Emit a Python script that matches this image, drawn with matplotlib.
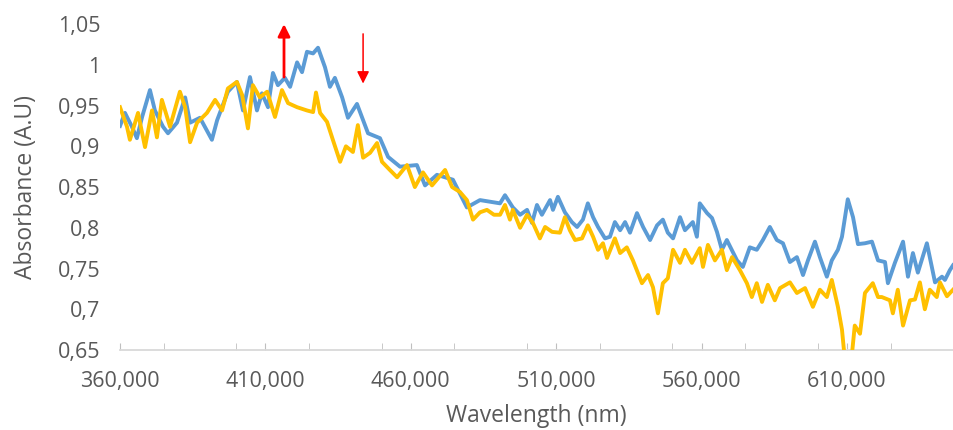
import matplotlib
matplotlib.use("Agg")
import matplotlib.pyplot as plt
from matplotlib.ticker import FuncFormatter, MultipleLocator, FixedLocator

# ---- data ----
blue_wl = [360.0, 361.7, 364.1, 365.8, 367.6, 370.3, 372.0, 374.8, 376.5, 379.6,
           382.4, 384.1, 387.5, 391.6, 393.4, 397.1, 400.2, 402.3, 404.7, 407.1,
           408.8, 410.9, 412.6, 414.3, 416.7, 418.5, 420.9, 422.6, 424.3, 426.4,
           428.1, 430.5, 432.2, 433.9, 436.4, 438.4, 441.5, 445.3, 449.4, 452.2,
           456.3, 462.1, 464.9, 469.0, 474.5, 479.3, 483.8, 490.7, 492.4, 495.1,
           497.6, 500.0, 501.7, 503.4, 505.1, 507.9, 508.9, 510.6, 513.0, 515.4,
           517.2, 519.2, 520.9, 522.7, 524.4, 526.8, 528.5, 530.2, 532.0, 533.7,
           535.4, 537.8, 539.9, 542.3, 544.7, 546.7, 548.4, 550.2, 552.6, 554.3,
           557.0, 558.4, 559.4, 561.9, 563.6, 565.3, 567.0, 568.7, 572.2, 574.2,
           576.6, 579.0, 581.1, 583.5, 585.9, 588.0, 590.4, 592.8, 594.9, 596.6,
           599.0, 600.7, 603.1, 604.8, 606.9, 608.3, 610.3, 612.1, 613.8, 616.2,
           618.6, 620.7, 623.1, 624.1, 626.5, 629.3, 631.0, 632.7, 634.4, 637.5,
           639.2, 640.3, 642.7, 643.7, 645.4, 646.5]
blue_abs = [0.925, 0.941, 0.924, 0.910, 0.936, 0.969, 0.944, 0.924, 0.916, 0.929,
            0.960, 0.929, 0.935, 0.908, 0.932, 0.967, 0.979, 0.944, 0.985, 0.944,
            0.965, 0.948, 0.990, 0.975, 0.984, 0.973, 1.003, 0.991, 1.016, 1.014,
            1.021, 0.997, 0.973, 0.984, 0.960, 0.935, 0.952, 0.916, 0.910, 0.887,
            0.875, 0.877, 0.852, 0.865, 0.859, 0.825, 0.834, 0.830, 0.840, 0.825,
            0.816, 0.822, 0.806, 0.828, 0.816, 0.834, 0.822, 0.838, 0.819, 0.807,
            0.801, 0.810, 0.830, 0.813, 0.801, 0.787, 0.789, 0.807, 0.797, 0.807,
            0.794, 0.818, 0.801, 0.785, 0.803, 0.810, 0.794, 0.787, 0.813, 0.797,
            0.807, 0.789, 0.830, 0.818, 0.812, 0.795, 0.773, 0.785, 0.760, 0.752,
            0.776, 0.773, 0.785, 0.801, 0.785, 0.781, 0.758, 0.764, 0.742, 0.760,
            0.783, 0.764, 0.740, 0.760, 0.773, 0.789, 0.835, 0.813, 0.780, 0.781,
            0.783, 0.760, 0.758, 0.732, 0.757, 0.783, 0.740, 0.769, 0.745, 0.781,
            0.752, 0.733, 0.740, 0.736, 0.748, 0.754]

yellow_wl = [360.0, 362.4, 363.4, 366.2, 368.6, 371.0, 372.7, 374.4, 377.2, 380.6,
             382.4, 384.1, 386.5, 389.9, 392.7, 395.1, 397.1, 400.2, 402.0, 404.0,
             405.7, 408.1, 410.6, 413.3, 415.7, 417.8, 420.9, 424.3, 426.4, 427.4,
             428.8, 431.2, 433.2, 435.7, 437.7, 440.1, 441.8, 443.6, 446.0, 448.4,
             450.1, 452.8, 455.3, 458.7, 461.4, 464.2, 467.3, 471.8, 474.2, 476.9,
             479.3, 481.4, 483.8, 486.2, 488.6, 490.7, 492.4, 494.1, 495.1, 497.6,
             500.0, 502.0, 504.4, 506.2, 508.6, 511.3, 513.0, 514.7, 516.5, 518.9,
             520.9, 522.7, 524.4, 526.1, 527.5, 530.2, 532.0, 534.3, 536.4, 539.5,
             541.6, 543.3, 545.0, 546.7, 548.4, 550.2, 552.6, 554.3, 556.7, 559.4,
             560.5, 562.2, 564.6, 567.0, 568.7, 570.5, 573.2, 575.6, 577.3, 579.0,
             580.8, 582.8, 585.2, 587.0, 590.4, 592.8, 595.6, 598.3, 600.7, 603.1,
             604.8, 606.9, 608.3, 609.3, 610.7, 611.7, 612.7, 614.5, 616.2, 618.9,
             620.7, 622.0, 624.8, 625.8, 627.5, 629.3, 631.7, 633.4, 635.1, 636.8,
             638.5, 640.9, 642.0, 644.4, 646.5]
yellow_abs = [0.948, 0.924, 0.908, 0.941, 0.899, 0.944, 0.911, 0.957, 0.924, 0.967,
              0.948, 0.905, 0.929, 0.941, 0.957, 0.944, 0.971, 0.979, 0.963, 0.922,
              0.975, 0.960, 0.967, 0.936, 0.969, 0.953, 0.948, 0.944, 0.942, 0.966,
              0.941, 0.930, 0.908, 0.881, 0.900, 0.893, 0.926, 0.886, 0.892, 0.904,
              0.881, 0.871, 0.862, 0.877, 0.850, 0.868, 0.852, 0.871, 0.850, 0.844,
              0.834, 0.810, 0.819, 0.822, 0.816, 0.816, 0.828, 0.810, 0.822, 0.800,
              0.816, 0.806, 0.787, 0.801, 0.795, 0.794, 0.813, 0.797, 0.785, 0.787,
              0.803, 0.789, 0.773, 0.781, 0.763, 0.787, 0.769, 0.776, 0.760, 0.732,
              0.742, 0.727, 0.695, 0.732, 0.738, 0.773, 0.757, 0.773, 0.757, 0.775,
              0.752, 0.779, 0.760, 0.773, 0.748, 0.764, 0.748, 0.732, 0.715, 0.732,
              0.709, 0.730, 0.711, 0.726, 0.733, 0.720, 0.726, 0.703, 0.724, 0.715,
              0.736, 0.703, 0.675, 0.638, 0.632, 0.644, 0.680, 0.670, 0.720, 0.732,
              0.715, 0.715, 0.711, 0.695, 0.724, 0.680, 0.711, 0.712, 0.733, 0.700,
              0.724, 0.715, 0.733, 0.716, 0.724]

# red arrow annotations: (wavelength, tail absorbance, tip absorbance)
arrow_up = (416.4, 0.985, 1.050)
arrow_down = (443.6, 1.038, 0.977)

x_major = [360, 410, 460, 510, 560, 610]
y_ticks = [0.65, 0.70, 0.75, 0.80, 0.85, 0.90, 0.95, 1.00, 1.05]
x_limits = (360, 646.5)
y_limits = (0.65, 1.05)

# ---- figure ----
plt.rcParams['font.family'] = ['Open Sans', 'DejaVu Sans']
fig = plt.figure(figsize=(9.54, 4.30), dpi=100)
ax = fig.add_axes([0.1258, 0.186, 0.8732, 0.758])

blue = '#5B9BD5'
gold = '#FFC000'
ax.plot(blue_wl, blue_abs, color=blue, lw=2.8, solid_joinstyle='round', zorder=3)
ax.plot(yellow_wl, yellow_abs, color=gold, lw=2.8, solid_joinstyle='round', zorder=4)

ax.set_xlim(*x_limits)
ax.set_ylim(*y_limits)

for s in ['top', 'right', 'left']:
    ax.spines[s].set_visible(False)
ax.spines['bottom'].set_color('#D9D9D9')
ax.spines['bottom'].set_linewidth(1.3)

ax.xaxis.set_major_locator(FixedLocator(x_major))
ax.xaxis.set_minor_locator(MultipleLocator(25))
ax.xaxis.set_major_formatter(FuncFormatter(lambda v, p: f"{v:.3f}".replace('.', ',')))
ax.yaxis.set_major_locator(FixedLocator(y_ticks))


def yfmt(v, p):
    s = f"{v:.2f}".rstrip('0').rstrip('.')
    return s.replace('.', ',')


ax.yaxis.set_major_formatter(FuncFormatter(yfmt))
ax.tick_params(axis='x', which='both', direction='in', length=5, color='#BFBFBF',
               labelsize=15.5, labelcolor='#595959', pad=15)
ax.tick_params(axis='y', length=0, labelsize=15.5, labelcolor='#595959', pad=14)

ax.set_xlabel('Wavelength (nm)', fontsize=16.5, color='#595959', labelpad=9)
ax.set_ylabel('Absorbance (A.U)', fontsize=16.5, color='#595959', labelpad=14)

ax.annotate('', xy=(arrow_up[0], arrow_up[2]), xytext=(arrow_up[0], arrow_up[1]),
            arrowprops=dict(arrowstyle='-|>', color='#FF0000', lw=2,
                            mutation_scale=18, shrinkA=0, shrinkB=0),
            annotation_clip=False, zorder=6)
ax.annotate('', xy=(arrow_down[0], arrow_down[2]), xytext=(arrow_down[0], arrow_down[1]),
            arrowprops=dict(arrowstyle='-|>', color='#FF0000', lw=1.1,
                            mutation_scale=18, shrinkA=0, shrinkB=0),
            annotation_clip=False, zorder=6)

fig.savefig('out.png', dpi=100)
